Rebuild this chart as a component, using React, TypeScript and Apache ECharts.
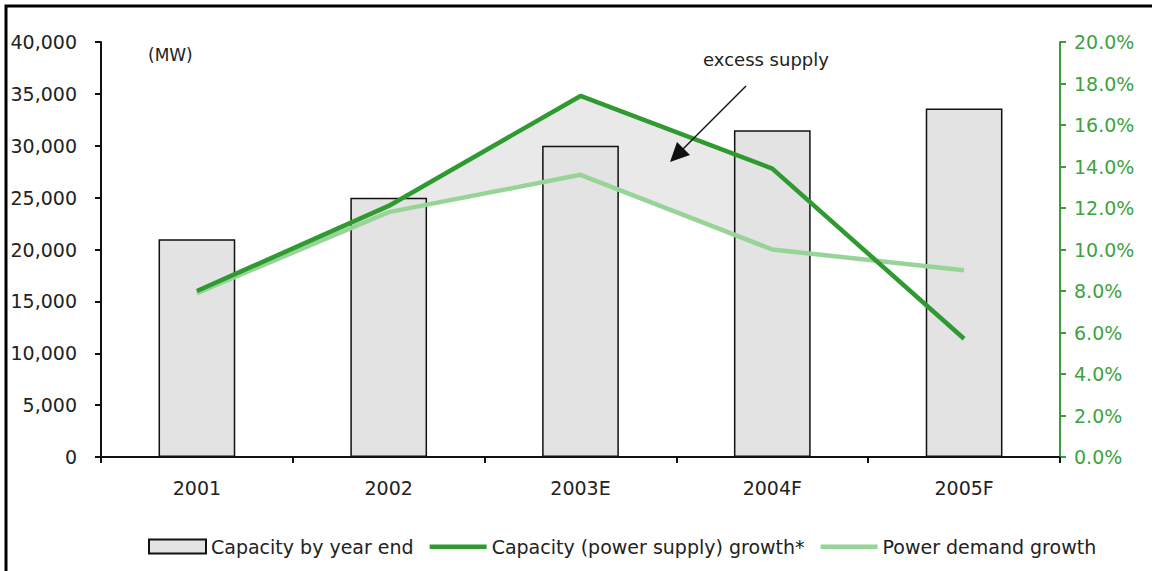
import React, { useEffect, useRef } from "react";
import * as echarts from "echarts";

const categories = ["2001", "2002", "2003E", "2004F", "2005F"];
const capacityMW = [21000, 25000, 30000, 31500, 33600];
const supplyGrowth = [8.0, 12.1, 17.4, 13.9, 5.7];
const demandGrowth = [7.9, 11.8, 13.6, 10.0, 9.0];
const excessUntilIndex = 3;
const leftTicks = { min: 0, max: 40000, interval: 5000 };
const rightTicks = { min: 0, max: 20, interval: 2 };

const FONT = "DejaVu Sans, Verdana, sans-serif";
const DARK = "#2f9a2f";
const LIGHT = "#98d498";
const AXIS_GREEN = "#3a9d3a";
const LINE_ICON = "path://M0,5h57v4.5h-57z M0,0h0.05v0.05h-0.05z M56.95,13.95h0.05v0.05h-0.05z";

export default function App() {
  const ref = useRef<HTMLDivElement>(null);
  useEffect(() => {
    if (!ref.current) return;
    const chart = echarts.init(ref.current, undefined, { renderer: "svg" });
    const option: any = {
      animation: false,
      backgroundColor: "#ffffff",
      textStyle: { fontFamily: FONT },
      grid: { left: 101, right: 92, top: 42, bottom: 114, containLabel: false },
      legend: {
        left: 148,
        top: 537,
        padding: 0,
        itemWidth: 57,
        itemHeight: 14,
        itemGap: 16,
        textStyle: { fontFamily: FONT, fontSize: 19, color: "#222" },
        data: [
          { name: "Capacity by year end", icon: "rect" },
          { name: "Capacity (power supply) growth*", icon: LINE_ICON, itemStyle: { color: DARK } },
          { name: "Power demand growth", icon: LINE_ICON, itemStyle: { color: LIGHT } },
        ],
      },
      xAxis: {
        type: "category",
        data: categories,
        boundaryGap: true,
        axisLine: { lineStyle: { color: "#111", width: 2 } },
        axisTick: { show: true, length: 6, lineStyle: { color: "#111", width: 2 } },
        axisLabel: { color: "#222", fontSize: 19, fontFamily: FONT, margin: 21 },
      },
      yAxis: [
        {
          type: "value",
          min: leftTicks.min,
          max: leftTicks.max,
          interval: leftTicks.interval,
          splitLine: { show: false },
          axisLine: { show: true, lineStyle: { color: "#111", width: 2 } },
          axisTick: { show: true, length: 6, lineStyle: { color: "#111", width: 2 } },
          axisLabel: {
            color: "#222",
            fontSize: 19,
            fontFamily: FONT,
            margin: 24,
            formatter: (v: number) => v.toLocaleString("en-US"),
          },
        },
        {
          type: "value",
          position: "right",
          min: rightTicks.min,
          max: rightTicks.max,
          interval: rightTicks.interval,
          splitLine: { show: false },
          axisLine: { show: true, lineStyle: { color: AXIS_GREEN, width: 2 } },
          axisTick: { show: true, length: 6, lineStyle: { color: AXIS_GREEN, width: 2 } },
          axisLabel: {
            color: "#3da33d",
            fontSize: 19,
            fontFamily: FONT,
            margin: 14,
            formatter: (v: number) => v.toFixed(1) + "%",
          },
        },
      ],
      series: [
        {
          name: "excess",
          type: "custom",
          xAxisIndex: 0,
          yAxisIndex: 1,
          z: 1,
          silent: true,
          data: [[0, 0]],
          renderItem: (params: any, api: any) => {
            if (params.dataIndex !== 0) return null;
            const pts: number[][] = [];
            for (let i = 0; i <= excessUntilIndex; i++) pts.push(api.coord([i, supplyGrowth[i]]));
            for (let i = excessUntilIndex; i >= 0; i--) pts.push(api.coord([i, demandGrowth[i]]));
            return {
              type: "polygon",
              shape: { points: pts },
              style: { fill: "#e9e9e9", stroke: "none" },
            };
          },
        },
        {
          name: "Capacity by year end",
          type: "bar",
          yAxisIndex: 0,
          z: 2,
          barWidth: "40%",
          data: capacityMW,
          itemStyle: { color: "#e3e3e3", borderColor: "#111", borderWidth: 1.5 },
        },
        {
          name: "Capacity (power supply) growth*",
          type: "line",
          yAxisIndex: 1,
          z: 4,
          symbol: "none",
          data: supplyGrowth,
          lineStyle: { color: DARK, width: 4.5 },
          itemStyle: { color: DARK },
        },
        {
          name: "Power demand growth",
          type: "line",
          yAxisIndex: 1,
          z: 3,
          symbol: "none",
          data: demandGrowth,
          lineStyle: { color: LIGHT, width: 4.5 },
          itemStyle: { color: LIGHT },
        },
      ],
      graphic: [
        {
          type: "rect",
          shape: { x: 6, y: 6, width: 1300, height: 700 },
          style: { fill: "none", stroke: "#000", lineWidth: 3 },
          silent: true,
          z: 100,
        },
        {
          type: "text",
          x: 148,
          y: 46,
          style: { text: "(MW)", fontFamily: FONT, fontSize: 17, fill: "#222" },
        },
        {
          type: "text",
          x: 766,
          y: 50,
          style: {
            text: "excess supply",
            fontFamily: FONT,
            fontSize: 18,
            fill: "#222",
            align: "center",
          },
        },
        {
          type: "line",
          shape: { x1: 746, y1: 86, x2: 680, y2: 152 },
          style: { stroke: "#111", lineWidth: 1.5 },
          z: 50,
        },
        {
          type: "polygon",
          shape: { points: [[670, 162], [677, 142], [690, 155]] },
          style: { fill: "#111" },
          z: 50,
        },
      ],
    };
    chart.setOption(option);
    return () => chart.dispose();
  }, []);
  return (
    <div
      ref={ref}
      style={{ position: "fixed", left: 0, top: 0, width: 1152, height: 571 }}
    />
  );
}
